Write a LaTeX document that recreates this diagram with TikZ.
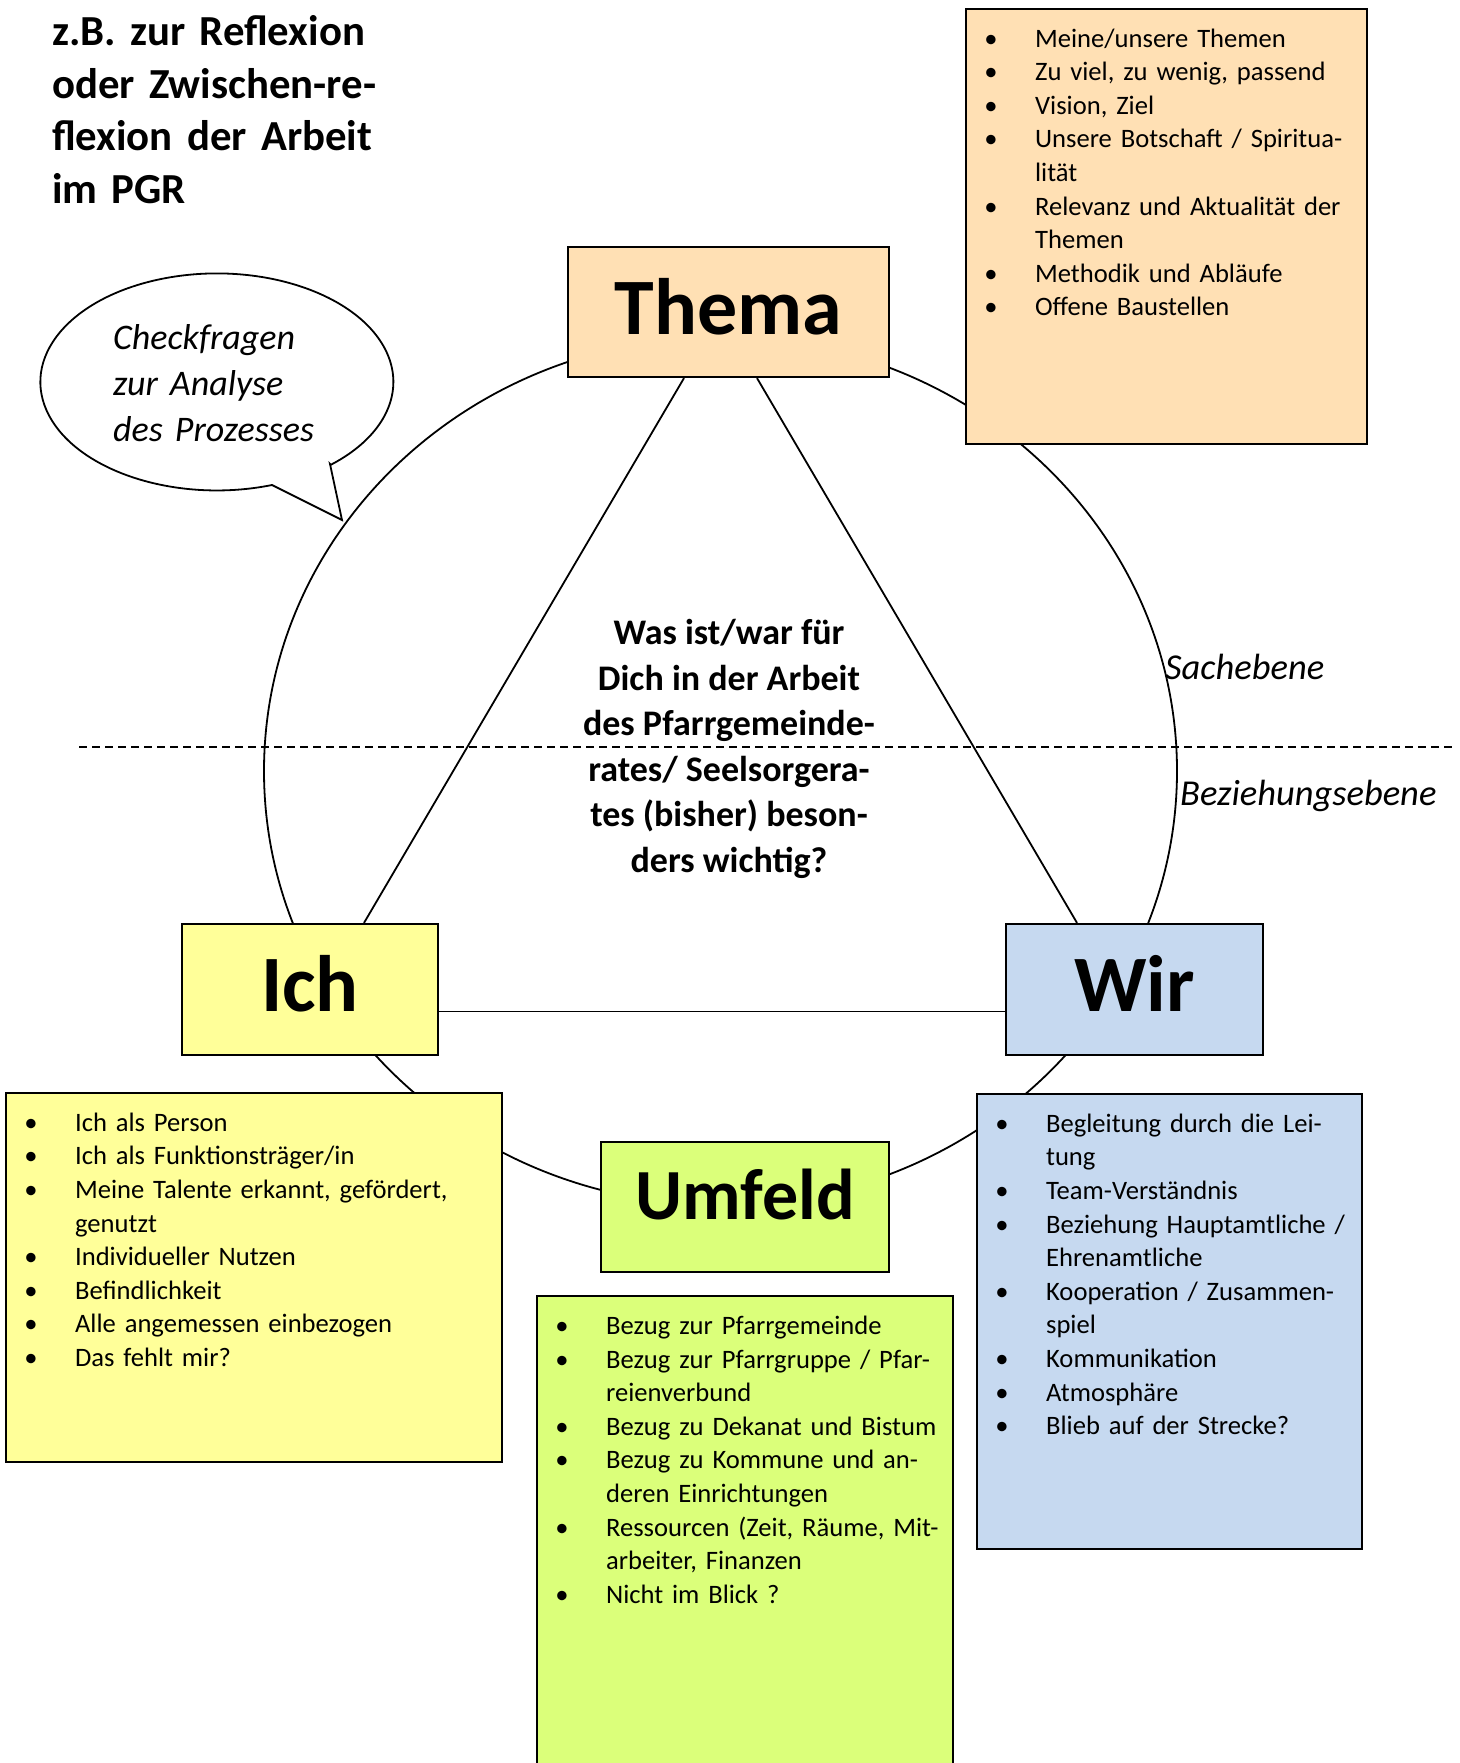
\documentclass[tikz,border=0pt]{standalone}
\usepackage{fontspec}
\setmainfont{Carlito}
\usepackage{xcolor}
\usepackage{tikz}
\usetikzlibrary{positioning}

\definecolor{themafarbe}{HTML}{FFE0B4}
\definecolor{ichfarbe}{HTML}{FFFF99}
\definecolor{wirfarbe}{HTML}{C6D9F0}
\definecolor{umfeldfarbe}{HTML}{DBFF7A}

\newcommand{\enger}{\spaceskip=0.22em plus 0.1em minus 0.05em\relax}
\newcommand{\punkt}[1]{\par\noindent\hangindent=70pt\hangafter=1\strut\makebox[70pt][l]{\makebox[52pt]{\textbullet}}#1\par}

\begin{document}
\begin{tikzpicture}[
		x=1pt, y=-1pt,
		kasten/.style={draw, line width=2.2pt},
		gross/.style={kasten, font=\fontsize{80}{96}\selectfont\bfseries, text height=60pt, text depth=16pt},
		liste/.style={anchor=north west, inner sep=0pt, text width=#1, align=left, font=\fontsize{26.6}{33.6}\selectfont\enger},
		linie/.style={line width=1.8pt},
		ebene/.style={inner sep=0pt, font=\fontsize{36.5}{44}\selectfont\itshape}
		]
		\useasboundingbox (0,0) rectangle (1459,1763);
		% Kreis und Sprechblase
		\draw[linie] (720.5,771) ellipse [x radius=456.5, y radius=434];
		\draw[linie, fill=white] (330,464) -- (342,520) -- (272,485) arc[start angle=71.8, end angle=409.8, x radius=176.5, y radius=108.5] -- cycle;
		\coordinate (linksende) at (79,747);
		\coordinate (rechtsende) at (1455,747);
		\draw[line width=1.5pt, dash pattern=on 8pt off 5pt] (linksende) -- (rechtsende);
		% die vier Ecken
		\node[gross, fill=themafarbe, minimum width=321pt, minimum height=130pt] (thema) at (728.5,312) {Thema};
		\node[gross, fill=ichfarbe, minimum width=256pt, minimum height=131pt] (ich) at (310,989.5) {Ich};
		\node[gross, fill=wirfarbe, minimum width=257pt, minimum height=131pt] (wir) at (1134.5,989.5) {Wir};
		\node[gross, fill=umfeldfarbe, minimum width=288pt, minimum height=130pt, font=\fontsize{72}{86}\selectfont\bfseries, text depth=36pt] (umfeld) at (745,1207) {Umfeld};
		% Listen
		\node[kasten, fill=themafarbe, minimum width=401pt, minimum height=435pt] (themaliste) at (1166.5,226.5) {};
		\node[kasten, fill=ichfarbe, minimum width=496pt, minimum height=369pt] (ichliste) at (254,1277.5) {};
		\node[kasten, fill=wirfarbe, minimum width=385pt, minimum height=455pt] (wirliste) at (1169.5,1321.5) {};
		\node[kasten, fill=umfeldfarbe, minimum width=416pt, minimum height=481pt, below=22pt of umfeld] (umfeldliste) {};
		\node[liste=440pt] (themapunkte) at ([yshift=-5.5pt]themaliste.north west) {
			\punkt{Meine/unsere Themen}
			\punkt{Zu viel, zu wenig, passend}
			\punkt{Vision, Ziel}
			\punkt{Unsere Botschaft / Spiritua-\newline lität}
			\punkt{Relevanz und Aktualität der\newline Themen}
			\punkt{Methodik und Abläufe}
			\punkt{Offene Baustellen}};
		\node[liste=520pt] (ichpunkte) at ([yshift=-5.5pt]ichliste.north west) {
			\punkt{Ich als Person}
			\punkt{Ich als Funktionsträger/in}
			\punkt{Meine Talente erkannt, gefördert,\newline genutzt}
			\punkt{Individueller Nutzen}
			\punkt{Befindlichkeit}
			\punkt{Alle angemessen einbezogen}
			\punkt{Das fehlt mir?}};
		\node[liste=420pt] (wirpunkte) at ([yshift=-5.5pt]wirliste.north west) {
			\punkt{Begleitung durch die Lei-\newline tung}
			\punkt{Team-Verständnis}
			\punkt{Beziehung Hauptamtliche /\newline Ehrenamtliche}
			\punkt{Kooperation / Zusammen-\newline spiel}
			\punkt{Kommunikation}
			\punkt{Atmosphäre}
			\punkt{Blieb auf der Strecke?}};
		\node[liste=450pt] (umfeldpunkte) at ([yshift=-5.5pt]umfeldliste.north west) {
			\punkt{Bezug zur Pfarrgemeinde}
			\punkt{Bezug zur Pfarrgruppe / Pfar-\newline reienverbund}
			\punkt{Bezug zu Dekanat und Bistum}
			\punkt{Bezug zu Kommune und an-\newline deren Einrichtungen}
			\punkt{Ressourcen (Zeit, Räume, Mit-\newline arbeiter, Finanzen}
			\punkt{Nicht im Blick ?}};
		% Dreieck
		\draw[linie] ([xshift=-44.5pt]thema.south) -- ([xshift=54pt]ich.north);
		\draw[linie] ([xshift=28.5pt]thema.south) -- ([xshift=-57.5pt]wir.north);
		\draw[linie] ([yshift=-22pt]ich.east) -- ([yshift=-22pt]wir.west);
		% Texte
		\node[anchor=north west, inner sep=0pt, text width=420pt, align=left, font=\fontsize{42.8}{52.5}\selectfont\bfseries\enger] (titel) at (52,9) {\strut z.B. zur Reflexion\newline oder Zwischen-re-\newline flexion der Arbeit\newline im PGR};
		\node[anchor=north west, inner sep=0pt, text width=300pt, align=left, font=\fontsize{36}{46}\selectfont\itshape] (check) at (113,317.2) {\strut Checkfragen\newline zur Analyse\newline des Prozesses};
		\node[align=center, inner sep=0pt, font=\fontsize{36}{45.6}\selectfont\bfseries] (frage) at (729,749) {Was ist/war für\\ Dich in der Arbeit\\ des Pfarrgemeinde-\\ rates/ Seelsorgera-\\ tes (bisher) beson-\\ ders wichtig?};
		\node[ebene, anchor=base west] (sache) at (1165,679) {Sachebene};
		\node[ebene, anchor=base west] (beziehung) at (1180,805) {Beziehungsebene};
	\end{tikzpicture}
\end{document}
